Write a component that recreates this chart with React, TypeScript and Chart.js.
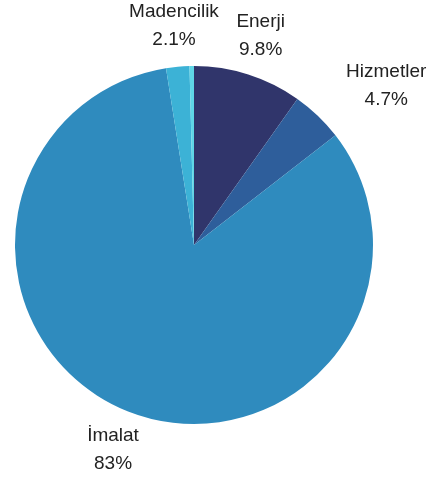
import React, { useEffect, useRef } from "react";
import { Chart, registerables } from "chart.js";

Chart.register(...registerables);

const categories = ["Enerji", "Hizmetler", "İmalat", "Madencilik", "Diğer"];
const values = [9.8, 4.7, 83.0, 2.1, 0.4];
const colors = ["#30356b", "#2e5e9b", "#2f8bbe", "#3cb2d6", "#5fd6e6"];
const showLabelMin = 1;

const FONT = '19px "Liberation Sans", Arial, sans-serif';

const labelPlugin = {
  id: "outsideLabels",
  afterDatasetsDraw(chart: any) {
    const ctx = chart.ctx;
    const meta = chart.getDatasetMeta(0);
    ctx.save();
    ctx.font = FONT;
    ctx.fillStyle = "#222222";
    ctx.textAlign = "center";
    ctx.textBaseline = "middle";
    meta.data.forEach((arc: any, i: number) => {
      const v = values[i];
      if (v < showLabelMin) return;
      const p = arc.getProps(["x", "y", "startAngle", "endAngle", "outerRadius"], true);
      const mid = (p.startAngle + p.endAngle) / 2;
      const R = p.outerRadius + 41;
      const l1 = categories[i];
      const l2 = `${v}%`;
      const w = Math.max(ctx.measureText(l1).width, ctx.measureText(l2).width);
      let cx = p.x + R * Math.cos(mid);
      const cy = p.y + R * Math.sin(mid);
      const c = Math.cos(mid);
      if (Math.abs(c) > 0.5) cx += Math.sign(c) * (w / 2);
      ctx.fillText(l1, cx, cy - 14);
      ctx.fillText(l2, cx, cy + 14);
    });
    ctx.restore();
  },
};

export default function App() {
  const ref = useRef<HTMLCanvasElement | null>(null);
  useEffect(() => {
    document.body.style.margin = "0";
    const canvas = ref.current!;
    const chart = new Chart(canvas, {
      type: "pie",
      data: {
        labels: categories,
        datasets: [
          {
            data: values,
            backgroundColor: colors,
            borderWidth: 0,
          },
        ],
      },
      options: {
        responsive: false,
        animation: false,
        devicePixelRatio: 1,
        layout: { padding: { left: 15, right: 62, top: 66, bottom: 55 } },
        plugins: {
          legend: { display: false },
          tooltip: { enabled: false },
        },
      },
      plugins: [labelPlugin],
    });
    return () => chart.destroy();
  }, []);
  return (
    <div style={{ width: 435, height: 479, background: "#fff" }}>
      <canvas ref={ref} width={435} height={479} style={{ display: "block" }} />
    </div>
  );
}
